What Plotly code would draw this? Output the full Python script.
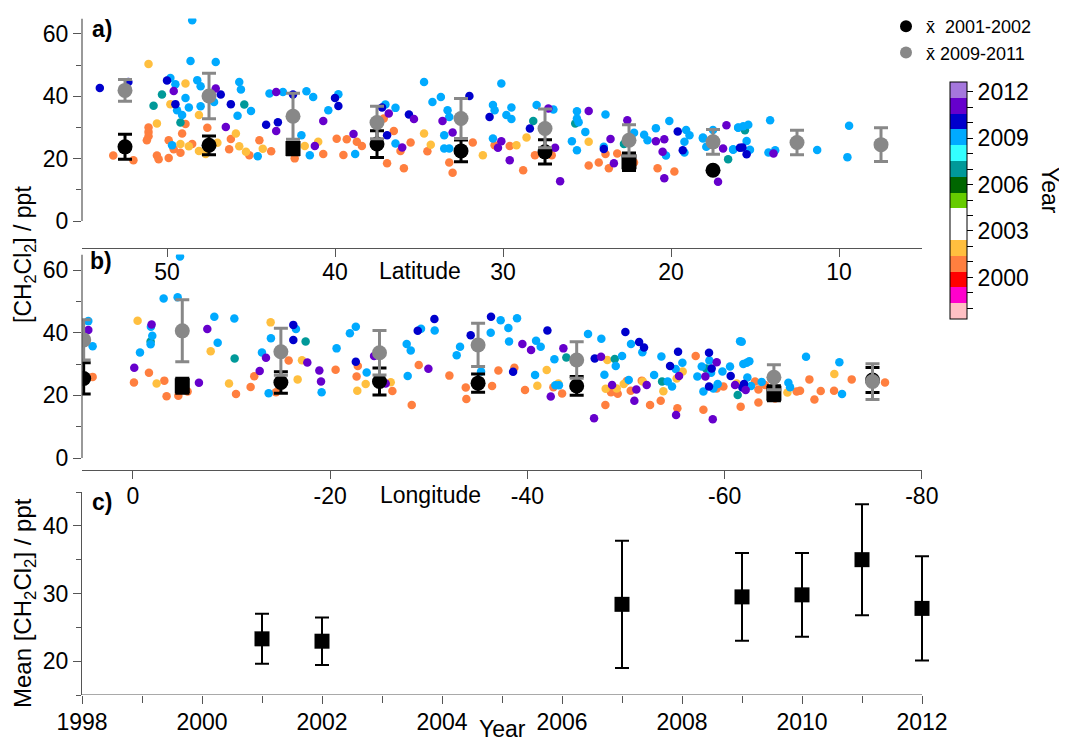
import plotly.graph_objects as go

# ---------------- data: panel a (latitude) ----------------
A_LAT_2001 = [51.1, 51.1, 51.1, 51.2, 48.9, 49.1, 49.9, 47.6, 53.2, 52.0, 50.6, 50.5, 49.9, 49.6, 49.2, 48.5,
              46.2, 46.3, 45.1, 44.5, 43.8, 42.4, 40.7, 39.9, 39.5, 39.3, 38.7,
              38.4, 37.1, 36.5, 36.9, 35.9, 35.5, 36.1, 34.5, 33.2, 33.0, 31.8, 28.8, 30.5, 29.6, 28.1,
              27.1, 24.9, 24.3, 23.9, 23.7, 23.2, 20.8, 19.8, 22.2]
A_VAL_2001 = [30.0, 28.6, 27.2, 25.9, 31.1, 28.1, 25.9, 29.9, 21.0, 19.5, 21.0, 19.8, 20.2, 23.0, 21.9, 24.7,
              26.3, 23.0, 21.1, 25.9, 22.4, 20.1, 21.5, 26.4, 21.2, 26.2, 25.4,
              24.1, 32.9, 28.9, 18.5, 16.9, 25.2, 22.5, 22.4, 18.8, 15.5, 25.2, 16.3, 24.3, 24.1, 21.1,
              21.1, 17.8, 18.8, 21.5, 16.9, 21.7, 16.9, 15.9, 18.8]
A_LAT_2002 = [51.1, 50.6, 48.9, 48.1, 49.8, 45.9, 49.2, 48.7, 48.1, 47.0, 45.7, 45.3, 44.3, 41.8, 41.0, 47.7,
              34.7, 34.3, 31.2, 29.2, 28.6, 24.9]
A_VAL_2002 = [50.4, 31.3, 44.1, 34.0, 37.5, 28.1, 24.7, 24.0, 22.5, 25.1, 24.0, 22.2, 23.2, 24.1, 25.4, 21.5,
              28.1, 24.5, 21.1, 24.3, 26.8, 25.4]
A_LAT_2007 = [50.3, 50.8, 49.2, 45.4, 28.2, 16.6, 25.7, 22.8, 15.6]
A_VAL_2007 = [40.6, 37.0, 31.6, 37.4, 32.1, 19.8, 31.3, 24.7, 29.1]
A_LAT_2009 = [48.5, 48.6, 47.1, 49.8, 49.5, 48.2, 48.0, 48.9, 49.4, 49.1, 48.7, 48.0, 47.2, 45.7, 45.6, 45.8,
              45.0, 43.9, 43.1, 41.7, 41.3, 40.4, 39.8, 49.7, 44.6, 41.5, 42.0, 38.8,
              34.7, 34.2, 33.7, 33.3, 33.2, 33.5, 33.2, 33.5, 30.1, 30.6, 30.5, 29.5, 29.8, 29.5, 30.6, 28.0,
              27.0, 25.6, 25.6, 25.5, 25.1, 25.6, 25.9, 23.9, 24.0, 22.2, 21.6, 21.4, 20.9, 20.1, 19.1, 18.9,
              18.1, 19.2, 19.2, 20.3, 16.0, 16.3, 36.4, 37.0, 36.4,
              18.1, 17.9, 17.5, 16.0, 15.7, 15.4, 15.5, 15.3, 14.1, 14.2, 13.8, 16.3, 11.3, 9.4, 9.5, 12.5]
A_VAL_2009 = [64.4, 51.3, 51.0, 45.9, 43.9, 45.2, 43.2, 39.5, 35.5, 34.0, 36.4, 36.8, 38.2, 44.6, 42.2, 33.8,
              35.3, 40.9, 41.4, 41.6, 39.8, 35.5, 40.7, 24.3, 20.8, 21.1, 27.5, 21.5,
              44.6, 38.2, 39.8, 35.5, 33.4, 23.3, 23.3, 27.5, 44.1, 37.2, 35.5, 36.4, 34.0, 32.7, 26.5, 37.2,
              35.8, 35.2, 32.9, 31.7, 28.6, 22.7, 25.6, 34.2, 23.8, 28.3, 27.7, 25.9, 29.8, 32.1, 29.2, 27.5,
              26.8, 25.4, 22.0, 21.0, 30.0, 23.0, 36.3, 37.4, 24.9,
              26.5, 23.8, 29.2, 29.9, 30.4, 30.9, 25.7, 22.9, 32.3, 22.0, 22.7, 22.9, 22.8, 30.6, 20.5, 25.4]
A_LAT_2010 = [54.0, 52.3, 50.0, 49.5, 46.8, 46.2, 44.1, 43.4, 42.5, 40.0, 39.8,
              37.2, 36.9, 35.6, 32.0, 30.8, 28.4, 24.0, 19.6, 19.3, 15.9, 15.75, 15.5]
A_VAL_2010 = [42.7, 44.6, 45.1, 37.5, 40.6, 37.5, 30.9, 31.7, 40.6, 39.5, 36.9,
              36.4, 27.5, 34.2, 40.1, 33.4, 29.7, 23.1, 28.7, 22.7, 23.5, 23.6, 21.4]
A_LAT_2011 = [49.6, 47.1, 46.5, 43.5, 43.5, 40.7, 41.2, 38.9,
              36.8, 36.0, 35.3, 33.6, 33.0, 30.3, 30.1, 29.6, 27.3, 26.9, 26.6, 24.9, 23.6, 22.6, 23.4,
              20.9, 20.4, 20.5, 20.4, 17.2, 16.9, 16.7, 13.9]
A_VAL_2011 = [41.7, 42.5, 30.2, 41.4, 28.9, 32.1, 24.1, 27.9,
              34.5, 23.6, 32.7, 32.1, 28.4, 23.5, 25.6, 19.5, 36.1, 23.5, 12.8, 35.3, 26.3, 32.3, 18.5,
              25.6, 26.2, 22.2, 13.7, 12.6, 23.3, 30.7, 21.7]

# ---------------- data: panel b (longitude) ----------------
B_LON_2001 = [4.09, -0.1, -1.62, -3.18, -3.41, -4.6, -5.54, -10.45, -11.93, -12.3, -15.79, -20.55, -22.68, -14.5, -22.8,
              -26.31, -28.27, -28.98, -32.09, -33.75, -33.81, -37.06, -36.42, -38.68, -39.76, -42.64, -43.52,
              -47.91, -48.48, -49.16, -50.07, -50.48, -51.6, -52.44, -53.52, -55.21, -57.07, -57.85, -59.88, -59.2,
              -61.63, -63.43, -63.09, -63.43, -67.31, -67.65, -68.6, -69.11, -69.75, -71.1, -72.89, -76.27, -65.12, -64.1]
B_VAL_2001 = [25.9, 24.1, 27.2, 24.7, 19.7, 19.9, 21.2, 20.4, 22.7, 26.1, 31.1, 28.2, 26.0, 21.0, 29.4,
              21.4, 16.9, 29.7, 26.3, 22.5, 18.8, 27.9, 23.0, 28.8, 21.7, 22.6, 20.6,
              16.9, 21.0, 20.5, 24.6, 21.5, 24.7, 16.9, 18.3, 15.9, 32.6, 15.4, 22.8, 22.2,
              16.4, 17.7, 24.4, 21.9, 21.2, 21.5, 25.1, 18.7, 21.4, 21.5, 25.1, 24.1, 19.0, 23.3]
B_LON_2002 = [-0.47, -2.4, -7.88, -9.74, -13.96, -17.14, -16.7, -22.75,
              -23.6, -26.14, -41.96, -41.01, -43.14, -48.11, -47.94, -49.06, -49.77, -51.7, -53.79, -55.14, -55.75,
              -71.13, -66.37, -61.23]
B_VAL_2002 = [43.8, 23.8, 34.1, 23.8, 43.3, 31.2, 25.1, 21.5,
              23.6, 24.2, 28.1, 23.1, 23.8, 31.3, 22.1, 22.2, 23.6, 24.4, 21.3, 25.4, 27.6,
              26.8, 20.9, 23.8]
B_LON_2007 = [-1.79, -10.31, -17.51, -43.95, -48.86, -53.66, -58.12, -61.33]
B_VAL_2007 = [37.2, 31.8, 37.2, 32.1, 31.6, 24.4, 28.6, 20.1]
B_LON_2009 = [4.53, 4.09, -0.71, -1.79, -1.96, -1.82, -3.11, -4.53, -4.77, -8.25, -8.59, -10.28, -13.08, -13.99,
              -13.76, -16.53, -19.13, -20.65, -22.0, -22.6,
              -23.7, -27.86, -27.76, -28.17, -29.21, -30.6, -32.83, -33.17, -35.3, -36.28, -37.29, -38.07, -38.14,
              -38.95, -40.78, -40.88, -41.35, -42.74, -42.84, -43.2, -46.15, -47.5, -47.81, -49.6, -48.96, -50.51,
              -50.28, -51.66, -52.85, -53.59, -54.23, -54.67, -55.04, -55.72, -57.24, -57.68, -58.46, -58.63, -59.3,
              -59.78, -61.57, -60.55, -58.86, -57.85,
              -61.74, -68.26, -71.64, -62.24, -62.51, -61.9, -62.68, -66.47, -66.64, -71.91, -63.76, -62.31]
B_VAL_2009 = [43.7, 35.7, 33.7, 36.3, 39.0, 41.9, 50.9, 51.3, 64.3, 45.1, 36.8, 44.5, 33.7, 38.2,
              20.7, 41.2, 21.0, 35.0, 39.8, 41.9,
              27.3, 26.2, 36.4, 34.3, 41.3, 40.7, 32.8, 35.5, 27.6, 40.0, 44.0, 41.5, 37.2,
              44.6, 26.5, 37.4, 35.5, 31.5, 23.2, 23.2, 39.6, 38.1, 26.6, 32.6, 29.4, 36.4,
              24.9, 33.8, 26.5, 32.4, 24.4, 22.8, 28.4, 30.4, 26.0, 29.2, 31.1, 27.2, 23.6,
              27.6, 37.3, 29.2, 22.2, 21.2,
              37.1, 32.3, 30.6, 30.4, 30.9, 30.0, 23.0, 24.0, 22.6, 20.4, 24.3, 25.7]
B_LON_2010 = [-16.26, -16.26, -22.6, -28.88, -30.57, -34.25, -36.31, -38.55, -42.03, -46.83, -49.94, -51.33,
              -51.83, -54.47, -55.28, -58.42, -58.69, -58.42, -60.62, -61.97, -61.8]
B_VAL_2010 = [42.5, 37.7, 30.7, 40.6, 44.4, 39.2, 45.1, 27.5, 40.7, 31.8, 40.2, 37.0,
              35.3, 29.4, 33.9, 33.6, 28.6, 22.8, 26.2, 23.6, 22.5]
B_LON_2011 = [4.53, -0.13, -1.89, -6.69, -7.54, -13.49, -12.85, -17.68, -18.9, -19.07,
              -24.45, -25.63, -29.96, -39.49, -40.37, -42.37, -43.65, -46.76, -47.47, -48.59, -50.85, -51.05,
              -52.1, -55.08, -55.38, -58.05, -59.2, -58.8, -61.06, -62.14, -65.29]
B_VAL_2011 = [40.9, 28.8, 42.6, 24.0, 41.2, 32.0, 27.8, 30.5, 27.9, 24.4,
              32.6, 23.8, 28.5, 36.4, 34.5, 19.6, 35.0, 12.7, 32.3, 23.3, 18.3, 21.9,
              23.3, 13.7, 26.2, 26.0, 30.6, 12.4, 23.3, 21.7, 21.7]

# ---------------- binned means ----------------
A_MEAN_LAT = [52.5, 47.5, 42.5, 37.5, 32.5, 27.5, 22.5, 17.5, 12.5, 7.5]
A_GRAY = [41.9, 40.1, 33.6, 31.6, 32.9, 29.7, 25.9, 25.4, 25.2, 24.5]
A_GRAY_SD = [3.5, 7.3, 7.4, 5.2, 6.4, 6.2, 5.0, 4.0, 3.9, 5.4]
A_BLACK_LAT = [52.5, 47.5, 42.5, 37.5, 32.5, 27.5, 22.5, 17.5]
A_BLACK = [23.8, 24.3, 23.3, 24.7, 22.5, 22.2, 19.0, 16.3]
A_BLACK_SD = [4.0, 3.0, 2.0, 4.3, 3.5, 3.9, 2.8, 0.0]
A_BLACK_SYM = ["circle", "circle", "square", "circle", "circle", "circle", "square", "circle"]

B_MEAN_LON = [5, -5, -15, -25, -35, -45, -65, -75]
B_GRAY = [37.7, 40.6, 33.9, 33.6, 36.1, 31.3, 25.8, 24.4]
B_GRAY_SD = [6.4, 9.9, 7.5, 7.1, 6.9, 5.8, 4.0, 5.7]
B_BLACK = [25.4, 23.1, 24.1, 24.4, 23.9, 23.0, 20.7, 24.9]
B_BLACK_SD = [5.0, 2.4, 3.4, 4.3, 2.9, 3.0, 2.4, 4.0]
B_BLACK_SYM = ["circle", "square", "circle", "circle", "circle", "circle", "square", "circle"]

# ---------------- panel c ----------------
C_YEAR = [2001, 2002, 2007, 2009, 2010, 2011, 2012]
C_MEAN = [23.3, 22.95, 28.4, 29.5, 29.8, 35.0, 27.8]
C_SD = [3.7, 3.5, 9.4, 6.5, 6.2, 8.2, 7.7]

LON_TICKS = [0, -20, -40, -60, -80]
LON_LABELS = ["0", "-20", "-40", "-60", "-80"]

CB_TICKS = list(range(1998, 2013))
CB_LABELS = [str(y) if (y - 2000) % 3 == 0 else "" for y in CB_TICKS]

# discrete colour scale (bottom to top)
BIN_COLORS = ["#FFC0C4", "#FF00CC", "#FF0000", "#FF7F3F", "#FFBF3F", "#FFFFFF", "#FFFFFF",
              "#66CC00", "#006600", "#009999", "#33FFFF", "#00AAFF", "#0000CC", "#6600CC", "#A577DD"]
CMIN, CMAX = 1997.35, 2012.65
n = len(BIN_COLORS)
colorscale = []
for i, c in enumerate(BIN_COLORS):
    colorscale.append([i / n, c])
    colorscale.append([(i + 1) / n, c])

W, H = 1067, 744
OFF = 8  # page body margin of the browser
def px(x):
    return (x - OFF) / W
def py(y):
    return 1 - (y - OFF) / H

FONT = "Liberation Sans, Arial, sans-serif"
AX = "#555555"

def collect(pairs):
    xs, ys, yr = [], [], []
    for year, xx, yy in pairs:
        xs += xx
        ys += yy
        yr += [year] * len(xx)
    return xs, ys, yr

ax_, ay_, ayr = collect([(2001, A_LAT_2001, A_VAL_2001), (2002, A_LAT_2002, A_VAL_2002),
                         (2007, A_LAT_2007, A_VAL_2007), (2009, A_LAT_2009, A_VAL_2009),
                         (2010, A_LAT_2010, A_VAL_2010), (2011, A_LAT_2011, A_VAL_2011)])
bx_, by_, byr = collect([(2001, B_LON_2001, B_VAL_2001), (2002, B_LON_2002, B_VAL_2002),
                         (2007, B_LON_2007, B_VAL_2007), (2009, B_LON_2009, B_VAL_2009),
                         (2010, B_LON_2010, B_VAL_2010), (2011, B_LON_2011, B_VAL_2011)])

fig = go.Figure()

fig.add_trace(go.Scatter(
    x=ax_, y=ay_, mode="markers", xaxis="x", yaxis="y", showlegend=False,
    marker=dict(size=8.5, color=ayr, colorscale=colorscale, cmin=CMIN, cmax=CMAX, line=dict(width=0),
                showscale=True,
                colorbar=dict(x=px(950), xanchor="left", xpad=0, y=py(200), yanchor="middle", ypad=0,
                              len=236.6 / H, lenmode="fraction", thickness=17, thicknessmode="pixels",
                              outlinewidth=1, outlinecolor="black",
                              tickmode="array", tickvals=CB_TICKS, ticktext=CB_LABELS,
                              ticks="outside", ticklen=6, tickcolor="black", tickwidth=1,
                              tickfont=dict(size=23, color="black", family=FONT)))))
fig.add_trace(go.Scatter(
    x=bx_, y=by_, mode="markers", xaxis="x2", yaxis="y2", showlegend=False,
    marker=dict(size=8.5, color=byr, colorscale=colorscale, cmin=CMIN, cmax=CMAX, line=dict(width=0),
                showscale=False)))

# black means (2001-2002)
fig.add_trace(go.Scatter(
    x=A_BLACK_LAT, y=A_BLACK, mode="markers", xaxis="x", yaxis="y", name="x\u0304  2001-2002",
    marker=dict(size=15, color="black", symbol=A_BLACK_SYM),
    error_y=dict(type="data", array=A_BLACK_SD, color="black", thickness=3, width=7)))
fig.add_trace(go.Scatter(
    x=B_MEAN_LON, y=B_BLACK, mode="markers", xaxis="x2", yaxis="y2", showlegend=False,
    marker=dict(size=15, color="black", symbol=B_BLACK_SYM),
    error_y=dict(type="data", array=B_BLACK_SD, color="black", thickness=3, width=7)))
# gray means (2009-2011)
fig.add_trace(go.Scatter(
    x=A_MEAN_LAT, y=A_GRAY, mode="markers", xaxis="x", yaxis="y", name="x\u0304 2009-2011",
    marker=dict(size=15, color="#888888"),
    error_y=dict(type="data", array=A_GRAY_SD, color="#888888", thickness=3, width=7)))
fig.add_trace(go.Scatter(
    x=B_MEAN_LON, y=B_GRAY, mode="markers", xaxis="x2", yaxis="y2", showlegend=False,
    marker=dict(size=15, color="#888888"),
    error_y=dict(type="data", array=B_GRAY_SD, color="#888888", thickness=3, width=7)))

# panel c
fig.add_trace(go.Scatter(
    x=C_YEAR, y=C_MEAN, mode="markers", xaxis="x3", yaxis="y3", showlegend=False, cliponaxis=False,
    marker=dict(size=15, color="black", symbol="square"),
    error_y=dict(type="data", array=C_SD, color="black", thickness=2, width=7)))

XD = [px(82), px(922)]
C_PAD = 0.25          # extra year of room on the right of panel c so the last error cap is not clipped
PX_PER_YEAR = 60.0
tickfont = dict(size=23, color="black", family=FONT)
common = dict(showgrid=False, zeroline=False, tickfont=tickfont, tickcolor=AX, ticks="outside",
              ticklen=8, tickwidth=1.2, linecolor=AX, linewidth=1.2, automargin=False)

fig.update_layout(
    width=W, height=H, margin=dict(l=0, r=0, t=0, b=0, autoexpand=False),
    paper_bgcolor="white", plot_bgcolor="rgba(0,0,0,0)",
    font=dict(family=FONT, color="black", size=23),
    xaxis=dict(domain=XD, range=[55.06, 5.06], anchor="y", showline=True, dtick=10, tick0=0,
               ticklabelstandoff=-5, **common),
    yaxis=dict(domain=[py(248), py(18.4)], range=[-8.65, 65], anchor="x", showline=False,
               tickvals=[0, 20, 40, 60], minor=dict(tickvals=[10, 30, 50], ticks="outside", ticklen=5, tickcolor=AX),
               **common),
    xaxis2=dict(domain=XD, range=[5.17, -80.02], anchor="y2", showline=True,
                tickmode="array", tickvals=LON_TICKS, ticktext=LON_LABELS, ticklabelstandoff=-3, **common),
    yaxis2=dict(domain=[py(470), py(254.4)], range=[-3.83, 65], anchor="x2", showline=False,
                tickvals=[0, 20, 40, 60], minor=dict(tickvals=[10, 30, 50], ticks="outside", ticklen=5, tickcolor=AX),
                **common),
    xaxis3=dict(domain=[px(82), px(922 + C_PAD * PX_PER_YEAR)], range=[1998, 2012 + C_PAD], anchor="y3",
                showline=False, tickmode="array", tickvals=list(range(1998, 2013, 2)),
                ticklabelstandoff=-2,
                minor=dict(tickvals=list(range(1999, 2012, 2)), ticks="outside", ticklen=7, tickcolor=AX),
                **common),
    yaxis3=dict(domain=[py(695), py(492)], range=[15, 45], anchor="x3", showline=True,
                tickvals=[20, 30, 40], minor=dict(tickvals=[15, 25, 35, 45], ticks="outside", ticklen=5, tickcolor=AX),
                **common),
    legend=dict(x=px(886), y=py(8), xanchor="left", yanchor="top", bgcolor="rgba(0,0,0,0)",
                font=dict(size=18, family=FONT, color="black"), itemsizing="constant",
                tracegroupgap=0),
)

# y-axis lines of panels a and b (drawn from 0 to the top only)
fig.add_shape(type="line", xref="paper", yref="y", x0=px(82), x1=px(82), y0=0, y1=65,
              line=dict(color=AX, width=1.2))
fig.add_shape(type="line", xref="paper", yref="y2", x0=px(82), x1=px(82), y0=0, y1=65,
              line=dict(color=AX, width=1.2))
# x-axis line of panel c, 1998 to 2012
fig.add_shape(type="line", xref="x3", yref="y3", x0=1998, x1=2012, y0=15, y1=15,
              line=dict(color=AX, width=1.2))

def ann(text, x, y, size=23, bold=False, angle=0, xanchor="center"):
    fig.add_annotation(text=f"<b>{text}</b>" if bold else text, x=px(x), y=py(y), xref="paper", yref="paper",
                       showarrow=False, textangle=angle, xanchor=xanchor, yanchor="middle",
                       font=dict(size=size, family=FONT, color="black"))

ann("a)", 90, 29, bold=True, xanchor="left")
ann("b)", 88, 261, bold=True, xanchor="left")
ann("c)", 90, 502, bold=True, xanchor="left")
ann("Latitude", 420, 271)
ann("Longitude", 430, 495)
ann("Year", 502, 729)
ann("[CH<sub>2</sub>Cl<sub>2</sub>] / ppt", 24, 255, angle=-90)
ann("Mean [CH<sub>2</sub>Cl<sub>2</sub>] / ppt", 24, 603, size=24, angle=-90)
ann("Year", 1050, 190, angle=90)

fig.write_html("out.html")
